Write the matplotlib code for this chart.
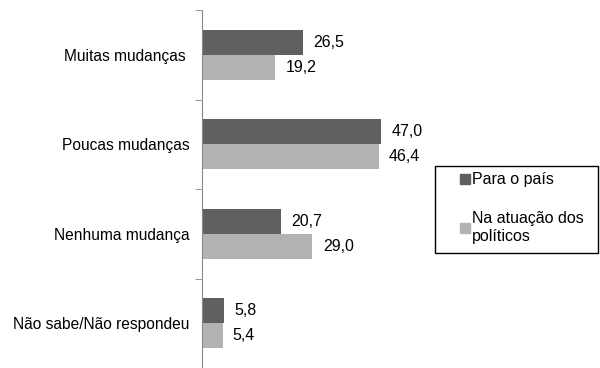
import numpy as np
import matplotlib.pyplot as plt
from matplotlib.patches import Patch, Rectangle

categories = ['Muitas mudanças ', 'Poucas mudanças', 'Nenhuma mudança', 'Não sabe/Não respondeu']
pais = [26.5, 47.0, 20.7, 5.8]
politicos = [19.2, 46.4, 29.0, 5.4]
series_names = ['Para o país', 'Na atuação dos\npolíticos']

dark = '#606060'
light = '#b2b2b2'
plt.rcParams['font.family'] = ['Liberation Sans', 'DejaVu Sans']
fs = 11.5

fig = plt.figure(figsize=(6, 3.68), dpi=100)
ax = fig.add_axes([202 / 600, 0, 395 / 600, 358 / 368])

y = np.arange(len(categories))
h = 0.28
ax.barh(y - h / 2, pais, height=h, color=dark)
ax.barh(y + h / 2, politicos, height=h, color=light)

for yi, v in zip(y - h / 2, pais):
    ax.text(v + 2.7, yi, f'{v:.1f}'.replace('.', ','), va='center', ha='left', fontsize=fs)
for yi, v in zip(y + h / 2, politicos):
    ax.text(v + 2.7, yi, f'{v:.1f}'.replace('.', ','), va='center', ha='left', fontsize=fs)

ax.set_xlim(0, 395 / 3.81)
ax.set_ylim(3.5, -0.5)
ax.set_yticks(y)
ax.set_yticklabels(categories, fontsize=11.2)
ax.tick_params(axis='y', which='major', length=0, pad=9)
ax.set_yticks(np.arange(-0.5, 4, 1), minor=True)
ax.tick_params(axis='y', which='minor', length=5, color='#888888')
ax.set_xticks([])
for s in ['top', 'right', 'bottom']:
    ax.spines[s].set_visible(False)
ax.spines['left'].set_color('#888888')

# legend box
fig.patches.append(Rectangle((435 / 600, 1 - 253 / 368), 163 / 600, 87 / 368,
                             transform=fig.transFigure, fill=False, edgecolor='black', lw=1))
handles = [Patch(color=dark), Patch(color=light)]
leg = fig.legend(handles, series_names, loc='upper left', bbox_to_anchor=(446 / 600, 1 - 158 / 368),
                 fontsize=fs, frameon=False, handlelength=0.6, handleheight=0.6,
                 handletextpad=0.15, labelspacing=1.5, borderpad=0.4)

fig.savefig('out.png', dpi=100)
